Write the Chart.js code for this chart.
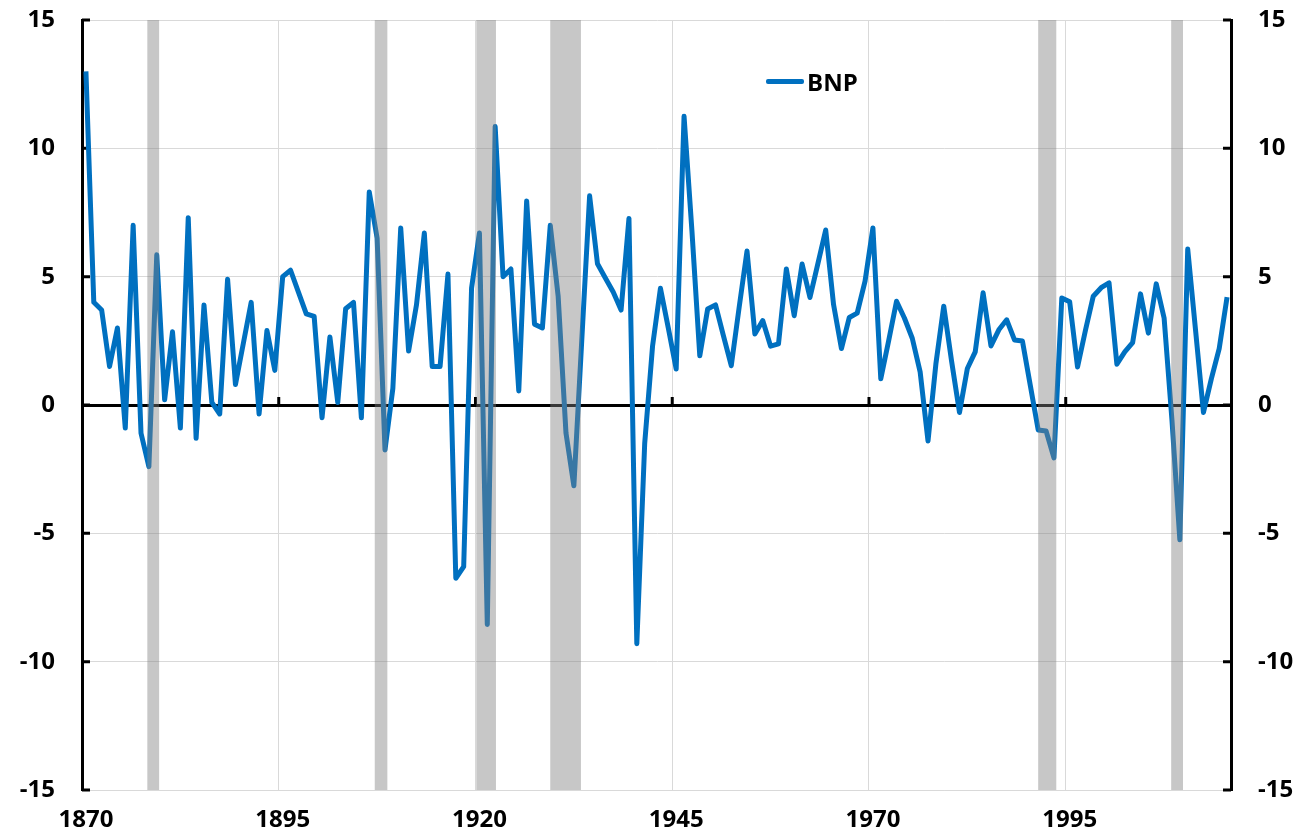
<!DOCTYPE html>
<html>
<head>
<meta charset="utf-8">
<script src="https://cdn.jsdelivr.net/npm/chart.js@4.4.1/dist/chart.umd.min.js"></script>
<style>
html,body{margin:0;padding:0;background:#ffffff;}
#wrap{position:relative;width:1304px;height:838px;}
#legend{position:absolute;left:766px;top:65px;display:flex;align-items:center;font:bold 24px "Open Sans", sans-serif;color:#000;}
#legend .swatch{display:inline-block;width:38px;height:5px;border-radius:2px;background:#0070C0;margin-right:3px;}
</style>
</head>
<body>
<div id="wrap">
<canvas id="gdpChart" width="1304" height="838"></canvas>
<div id="legend"><span class="swatch"></span>BNP</div>
</div>
<script>
//======================================================
// DATA
//======================================================

const years = [
    1870,1871,1872,1873,1874,1875,1876,1877,1878,1879,
    1880,1881,1882,1883,1884,1885,1886,1887,1888,1889,
    1890,1891,1892,1893,1894,1895,1896,1897,1898,1899,
    1900,1901,1902,1903,1904,1905,1906,1907,1908,1909,
    1910,1911,1912,1913,1914,1915,1916,1917,1918,1919,
    1920,1921,1922,1923,1924,1925,1926,1927,1928,1929,
    1930,1931,1932,1933,1934,1935,1936,1937,1938,1939,
    1940,1941,1942,1943,1944,1945,1946,1947,1948,1949,
    1950,1951,1952,1953,1954,1955,1956,1957,1958,1959,
    1960,1961,1962,1963,1964,1965,1966,1967,1968,1969,
    1970,1971,1972,1973,1974,1975,1976,1977,1978,1979,
    1980,1981,1982,1983,1984,1985,1986,1987,1988,1989,
    1990,1991,1992,1993,1994,1995,1996,1997,1998,1999,
    2000,2001,2002,2003,2004,2005,2006,2007,2008,2009,
    2010,2011,2012,2013,2014,2015
];

const bnp = [
    13.0, 4.0, 3.7, 1.5, 3.0, -0.9, 7.0, -1.1, -2.4, 5.85,
    0.2, 2.85, -0.9, 7.3, -1.3, 3.9, 0.1, -0.35, 4.9, 0.8,
    2.4, 4.0, -0.35, 2.9, 1.35, 5.0, 5.25, 4.4, 3.55, 3.45,
    -0.5, 2.65, 0.1, 3.75, 4.0, -0.5, 8.3, 6.5, -1.75, 0.65,
    6.9, 2.1, 3.9, 6.7, 1.5, 1.5, 5.1, -6.75, -6.3, 4.55,
    6.7, -8.55, 10.85, 5.0, 5.3, 0.55, 7.95, 3.15, 3.0, 7.0,
    4.25, -1.1, -3.15, 2.5, 8.15, 5.5, 4.95, 4.4, 3.7, 7.27,
    -9.3, -1.5, 2.3, 4.55, 3.0, 1.4, 11.25, 6.8, 1.92, 3.74,
    3.9, 2.7, 1.53, 3.8, 6.0, 2.77, 3.29, 2.29, 2.38, 5.3,
    3.48, 5.49, 4.19, 5.5, 6.82, 3.91, 2.2, 3.41, 3.58, 4.83,
    6.9, 1.02, 2.5, 4.04, 3.39, 2.6, 1.29, -1.4, 1.6, 3.85,
    1.7, -0.29, 1.42, 2.07, 4.37, 2.3, 2.93, 3.32, 2.53, 2.49,
    0.76, -0.97, -1.01, -2.06, 4.17, 4.02, 1.48, 2.9, 4.24, 4.57,
    4.76, 1.59, 2.07, 2.43, 4.33, 2.8, 4.72, 3.39, -0.6, -5.25,
    6.08, 2.9, -0.29, 1.02, 2.2, 4.2
];

// shaded recession periods (in years)
const bandStart = [1877.8, 1906.7, 1919.6, 1929.0, 1991.0, 2007.9];
const bandEnd   = [1879.3, 1908.3, 1922.1, 1932.9, 1993.3, 2009.4];

// years shown on the x axis
const labeledYears = [1870, 1895, 1920, 1945, 1970, 1995];

const yMin = -15;
const yMax = 15;
const yStep = 5;

//======================================================
// STYLE
//======================================================

const LINE_COLOR = "#0070C0";
const GRID_COLOR = "#d9d9d9";
const BAND_COLOR = "rgba(128,128,128,0.44)";
const AXIS_FONT = { family: "'Open Sans', sans-serif", size: 24, weight: "bold" };

//======================================================
// PLUGINS
//======================================================

// small inward tick marks on both y axes and on the zero line
const axisMarks = {

    id: "axisMarks",

    beforeDatasetsDraw(chart){

        const { ctx, chartArea, scales } = chart;

        const x = scales.x;
        const y = scales.y;

        ctx.save();
        ctx.strokeStyle = "#000";
        ctx.lineWidth = 3;

        y.ticks.forEach(function(t){

            const py = y.getPixelForValue(t.value);

            ctx.beginPath();
            ctx.moveTo(chartArea.left, py);
            ctx.lineTo(chartArea.left + 8, py);
            ctx.moveTo(chartArea.right, py);
            ctx.lineTo(chartArea.right - 8, py);
            ctx.stroke();

        });

        const zeroY = y.getPixelForValue(0);

        labeledYears.forEach(function(yr){

            const idx = years.indexOf(yr);

            if(idx <= 0) return;

            const px = x.getPixelForValue(idx - 0.5);

            ctx.beginPath();
            ctx.moveTo(px, zeroY);
            ctx.lineTo(px, zeroY - 8);
            ctx.stroke();

        });

        ctx.restore();

    }

};

// grey recession bands, drawn over the line
const recessionBands = {

    id: "recessionBands",

    afterDatasetsDraw(chart){

        const { ctx, chartArea, scales } = chart;

        const x = scales.x;

        ctx.save();
        ctx.fillStyle = BAND_COLOR;

        bandStart.forEach(function(start, i){

            const x0 = x.getPixelForValue(start - years[0]);
            const x1 = x.getPixelForValue(bandEnd[i] - years[0]);

            ctx.fillRect(x0, chartArea.top, x1 - x0, chartArea.bottom - chartArea.top);

        });

        ctx.restore();

    }

};

//======================================================
// CHART
//======================================================

function fitVertical(width){

    return function(scale){
        scale.width = width;
        scale.paddingTop = 0;
        scale.paddingBottom = 0;
    };

}

const ctx = document.getElementById("gdpChart").getContext("2d");

const gdpChart = new Chart(ctx, {

    type: "line",

    data: {

        labels: years,

        datasets: [{

            label: "BNP",

            data: bnp,

            borderColor: LINE_COLOR,

            borderWidth: 5,

            pointRadius: 0,

            tension: 0,

            borderJoinStyle: "round",

            yAxisID: "y"

        }]

    },

    options: {

        responsive: false,

        animation: false,

        devicePixelRatio: 1,

        layout: {
            padding: { top: 20, left: 0, right: 0, bottom: 0 }
        },

        plugins: {

            legend: { display: false },

            tooltip: { enabled: false }

        },

        scales: {

            x: {

                type: "category",

                offset: true,

                afterFit: function(scale){
                    scale.height = 48;
                    scale.paddingLeft = 0;
                    scale.paddingRight = 0;
                },

                grid: {
                    offset: true,
                    drawTicks: false,
                    color: function(c){
                        return (c.index > 0 && c.index % 25 === 0) ? GRID_COLOR : "rgba(0,0,0,0)";
                    }
                },

                border: { color: GRID_COLOR, width: 1 },

                ticks: {
                    autoSkip: false,
                    maxRotation: 0,
                    padding: 16,
                    color: "#000",
                    font: AXIS_FONT,
                    callback: function(value, index){
                        return labeledYears.includes(years[index]) ? String(years[index]) : "";
                    }
                }

            },

            y: {

                position: "left",

                min: yMin,
                max: yMax,

                afterFit: fitVertical(82),

                grid: {
                    drawTicks: false,
                    color: function(c){ return c.tick.value === 0 ? "#000" : GRID_COLOR; },
                    lineWidth: function(c){ return c.tick.value === 0 ? 3 : 1; }
                },

                border: { color: "#000", width: 3 },

                ticks: {
                    stepSize: yStep,
                    padding: 27,
                    color: "#000",
                    font: AXIS_FONT
                }

            },

            y1: {

                position: "right",

                min: yMin,
                max: yMax,

                afterFit: fitVertical(73),

                grid: { drawOnChartArea: false, drawTicks: false },

                border: { color: "#000", width: 3 },

                ticks: {
                    stepSize: yStep,
                    padding: 27,
                    color: "#000",
                    font: AXIS_FONT
                }

            }

        }

    },

    plugins: [axisMarks, recessionBands]

});
</script>
</body>
</html>
